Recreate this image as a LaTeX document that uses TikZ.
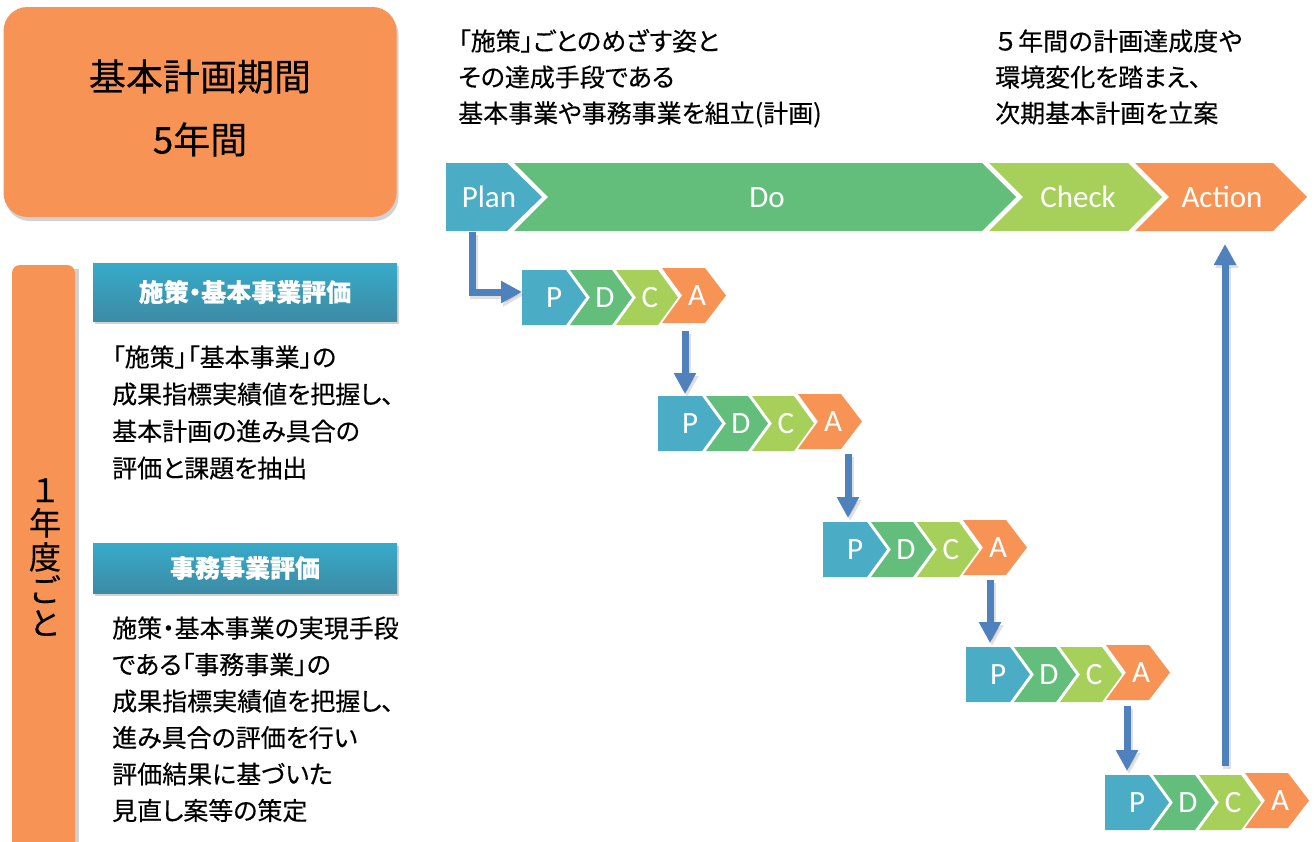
\documentclass[tikz,border=0pt]{standalone}
\usepackage{fontspec}
\newfontfamily\jp{Noto Sans CJK JP}
\newfontfamily\jpp[RawFeature=+palt, FakeBold=0.3]{Noto Sans CJK JP}
\newfontfamily\jpf[FakeBold=0.3]{Noto Sans CJK JP}
\newfontfamily\carl{Carlito}
\usetikzlibrary{arrows.meta,shadows}
\definecolor{cPlan}{HTML}{4BACC6}
\definecolor{cDo}{HTML}{63BE7B}
\definecolor{cCheck}{HTML}{A7D05B}
\definecolor{cAct}{HTML}{F79455}
\definecolor{cArrow}{HTML}{4F81BD}
\definecolor{hTop}{HTML}{36ABC9}
\definecolor{hBot}{HTML}{3D8BA5}
\newcommand\chv[7]{\fill[#7] (#1,#2) -- ++(#3,0) -- ++(#5,#4/2) -- ++(-#5,#4/2) -- ++(-#3,0) -- ++(#6,-#4/2) -- cycle;}
\begin{document}
\begin{tikzpicture}[x=1pt,y=-1pt,
  body/.style={font=\jpp\fontsize{25}{25}\selectfont, text height=22pt, text depth=3pt, inner sep=0pt, anchor=west},
  big/.style={font=\jpf\fontsize{37}{37}\selectfont, text height=32pt, text depth=5pt, inner sep=0pt},
  vert/.style={font=\jpf\fontsize{32}{32}\selectfont, text height=28pt, text depth=4pt, inner sep=0pt},
  barlbl/.style={font=\carl\fontsize{31}{31}\selectfont, text=white, text height=20pt, text depth=0pt, inner sep=0pt},
  lbl/.style={font=\carl\fontsize{31}{31}\selectfont, text=white, text height=20pt, text depth=0pt, inner sep=0pt},
  hdr/.style={rectangle, top color=hTop, bottom color=hBot, minimum width=304pt, minimum height=58pt, inner sep=0pt,
     text=white, font=\jpp\bfseries\fontsize{25}{25}\selectfont,
     drop shadow={opacity=0.35, shadow xshift=1.5pt, shadow yshift=-3pt}},
  arr/.style={draw=cArrow, line width=7pt, -{Triangle[length=21pt,width=21pt]}},
  arrsh/.style={draw=black, opacity=0.12, line width=8pt, -{Triangle[length=21pt,width=22pt]}}
]
\useasboundingbox (0,0) rectangle (1314,841);
\fill[white] (0,0) rectangle (1314,841);

% title box
\node[rectangle, rounded corners=24pt, fill=cAct, minimum width=393pt, minimum height=210pt,
  drop shadow={opacity=0.35, shadow xshift=2pt, shadow yshift=-4pt}] (ttl) at (200,112) {};
\node[big] (ttl1) at (200,77) {基本計画期間};
\node[big] (ttl2) at (200,140) {5年間};

% left vertical bar
\fill[black, opacity=0.18] (15,269) rectangle (79,860);
\fill[cAct, rounded corners=8pt] (12,265) -- (75,265) -- (75,880) -- (12,880) -- cycle;
\foreach \c/\yy [count=\i] in {１/490, 年/523, 度/557, ご/590, と/623}
  \node[vert] (v\i) at (45,\yy) {\c};

% headers
\node[hdr] (h1) at (245,292) {施策・基本事業評価};
\node[hdr, minimum height=50pt] (h2) at (245,568) {事務事業評価};

% body text block 1
\foreach \t [count=\i] in {「施策」「基本事業」の, 成果指標実績値を把握し、, 基本計画の進み具合の, 評価と課題を抽出}
  \node[body] (a\i) at (112,{357+37*(\i-1)}) {\t};
% body text block 2
\foreach \t [count=\i] in {施策・基本事業の実現手段, である「事務事業」の, 成果指標実績値を把握し、, 進み具合の評価を行い, 評価結果に基づいた, 見直し案等の策定}
  \node[body] (b\i) at (112,{628+36.5*(\i-1)}) {\t};

% top texts
\foreach \t [count=\i] in {「施策」ごとのめざす姿と, その達成手段である, 基本事業や事務事業を組立(計画)}
  \node[body] (t\i) at (458,{41+36*(\i-1)}) {\t};
\node[body, font=\jpf\fontsize{25}{25}\selectfont] (r1) at (993,41) {５年間の計画達成度や};
\node[body] (r2) at (995,77) {環境変化を踏まえ、};
\node[body] (r3) at (995,113) {次期基本計画を立案};

% main PDCA bar
\chv{446}{163}{61}{68}{35}{0}{cPlan}
\chv{514}{163}{468}{68}{34}{34}{cDo}
\chv{989}{163}{139}{68}{34}{34}{cCheck}
\chv{1135}{163}{138}{68}{34}{34}{cAct}
\node[barlbl] (plan) at (489,197) {Plan};
\node[barlbl] (do) at (767,197) {Do};
\node[barlbl] (check) at (1078,197) {Check};
\node[barlbl] (action) at (1222,197) {Action};

% small PDCA sets
\foreach \X/\Y [count=\n] in {522/270, 658/396, 823/522, 966/647, 1105/775}{
  \chv{\X}{\Y}{44}{55}{20}{0}{cPlan}
  \chv{\X+48}{\Y}{42}{55}{20}{20}{cDo}
  \chv{\X+94}{\Y}{42}{55}{20}{20}{cCheck}
  \chv{\X+140}{\Y-2}{43}{55}{21}{20}{cAct}
  \node[lbl] (p\n) at (\X+32,\Y+27.5) {P};
  \node[lbl] (d\n) at (\X+83,\Y+27.5) {D};
  \node[lbl] (c\n) at (\X+128,\Y+27.5) {C};
  \node[lbl] (ac\n) at (\X+175,\Y+25.5) {A};
}

% connectors
\coordinate (pb) at (472,232);
\coordinate (in1) at (522,292);
\coordinate (out1) at (685,331);  \coordinate (in2) at (685,394);
\coordinate (out2) at (848,454);  \coordinate (in3) at (848,518);
\coordinate (out3) at (990,580);  \coordinate (in4) at (990,643);
\coordinate (out4) at (1127,706); \coordinate (in5) at (1127,771);
\coordinate (out5) at (1225,766); \coordinate (actin) at (1225,244);

\begin{scope}[transform canvas={xshift=2pt,yshift=-3pt}]
  \draw[arrsh] (pb) |- (in1);
  \foreach \k [evaluate=\k as \m using int(\k+1)] in {1,2,3,4}
    \draw[arrsh] (out\k) -- (in\m);
  \draw[arrsh] (out5) -- (actin);
\end{scope}
\draw[arr] (pb) |- (in1);
\foreach \k [evaluate=\k as \m using int(\k+1)] in {1,2,3,4}
  \draw[arr] (out\k) -- (in\m);
\draw[arr] (out5) -- (actin);
\end{tikzpicture}
\end{document}
